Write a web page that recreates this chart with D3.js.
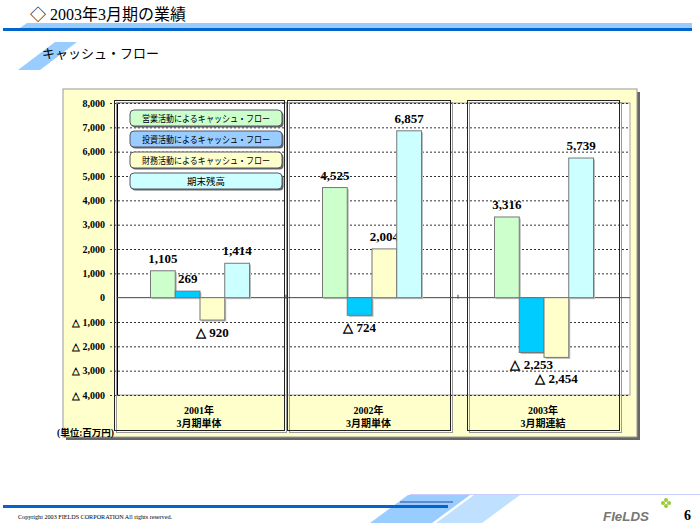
<!DOCTYPE html>
<html><head><meta charset="utf-8">
<script src="https://cdn.jsdelivr.net/npm/d3@7"></script>
<style>body{margin:0;background:#fff;} svg{display:block;}</style>
</head><body>
<script>
// ---- data ----
const catLine1 = ["2001年", "2002年", "2003年"];
const catLine2 = ["3月期単体", "3月期単体", "3月期連結"];
const seriesNames = ["営業活動によるキャッシュ・フロー", "投資活動によるキャッシュ・フロー", "財務活動によるキャッシュ・フロー", "期末残高"];
const operatingCF = [1105, 4525, 3316];
const investingCF = [269, -724, -2253];
const financingCF = [-920, 2004, -2454];
const endingBalance = [1414, 6857, 5739];
const yTickValues = [-4000, -3000, -2000, -1000, 0, 1000, 2000, 3000, 4000, 5000, 6000, 7000, 8000];
const unitLabel = "(単位:百万円)";

const barColors = ["#ccffcc", "#00ccff", "#ffffcc", "#ccffff"];
const legendColors = ["#ccffcc", "#99ccff", "#ffffcc", "#ccffff"];

const W = 700, H = 525;
const svg = d3.select("body").append("svg").attr("width", W).attr("height", H);
const SERIF = "'Liberation Serif','Times New Roman',serif";
const CJK = "'Liberation Serif','Noto Sans CJK JP',serif";

// ---- header ----
svg.append("polygon").attr("points", "20,28 27,23 692,23 692,28").attr("fill", "#99ccff");
svg.append("rect").attr("x", 3).attr("y", 28).attr("width", 689).attr("height", 3).attr("fill", "#0066cc");
svg.append("text").attr("x", 30).attr("y", 20).attr("font-family", CJK).attr("font-size", 16)
  .attr("fill", "#000").text("◇ 2003年3月期の業績");
svg.append("polygon").attr("points", "55,42 77,42 40,70 18,70").attr("fill", "#99ccff");
svg.append("text").attr("x", 42).attr("y", 58).attr("font-family", "'Noto Sans CJK JP',sans-serif").attr("font-size", 13)
  .attr("fill", "#000").text("キャッシュ・フロー");

// ---- panel ----
svg.append("rect").attr("x", 66).attr("y", 92).attr("width", 574).attr("height", 348).attr("fill", "#666");
svg.append("rect").attr("x", 63).attr("y", 89).attr("width", 574).attr("height", 348).attr("fill", "#ffffcc").attr("stroke", "#999").attr("stroke-width", 1);

// ---- scales ----
const plotL = 117, plotR = 630, plotT = 103, plotB = 395;
const y = d3.scaleLinear().domain([-4000, 8000]).range([plotB, plotT]);
const x = d3.scaleBand().domain(d3.range(catLine1.length)).range([114, 630]).padding(0);
const bw = x.bandwidth();
const groupW = 99;
const xs = d3.scaleBand().domain(d3.range(4)).range([0, groupW]).padding(0);

svg.append("rect").attr("x", plotL).attr("y", plotT).attr("width", plotR - plotL).attr("height", plotB - plotT)
  .attr("fill", "#fff").attr("stroke", "#a0a0a0");

// grid
const grid = svg.append("g");
yTickValues.forEach(v => {
  if (v === 0) return;
  grid.append("line").attr("x1", 110).attr("x2", plotR).attr("y1", y(v) + 0.5).attr("y2", y(v) + 0.5)
    .attr("stroke", "#333").attr("stroke-dasharray", "2,2").attr("stroke-width", 1);
});

// y axis
const yAxis = d3.axisLeft(y).tickValues(yTickValues).tickSize(0).tickPadding(12)
  .tickFormat(v => v < 0 ? "△ " + d3.format(",")(-v) : d3.format(",")(v));
const ya = svg.append("g").attr("transform", `translate(${plotL},0)`).call(yAxis);
ya.select(".domain").attr("stroke", "#000");
ya.selectAll("text").attr("font-family", SERIF).attr("font-weight", "bold").attr("font-size", 10).attr("fill", "#000");

// category boxes
const boxInset = [[0, 2], [1, 8], [9, 11]];
catLine1.forEach((c, i) => {
  const x0 = x(i) + boxInset[i][0], x1 = x(i) + bw - boxInset[i][1];
  svg.append("rect").attr("x", x0 + 2.5).attr("y", 102.5).attr("width", x1 - x0).attr("height", 330)
    .attr("fill", "none").attr("stroke", "#999");
  svg.append("rect").attr("x", x0 + 0.5).attr("y", 100.5).attr("width", x1 - x0).attr("height", 330)
    .attr("fill", "none").attr("stroke", "#222");
  const cx = (x0 + x1) / 2;
  svg.append("text").attr("x", cx).attr("y", 414).attr("text-anchor", "middle").attr("font-family", CJK)
    .attr("font-weight", "bold").attr("font-size", 10).text(c);
  svg.append("text").attr("x", cx).attr("y", 427).attr("text-anchor", "middle").attr("font-family", CJK)
    .attr("font-weight", "bold").attr("font-size", 10).text(catLine2[i]);
});

// zero line
svg.append("line").attr("x1", plotL).attr("x2", plotR).attr("y1", y(0)).attr("y2", y(0)).attr("stroke", "#444");
[1, 2].forEach(i => {
  svg.append("line").attr("x1", x(i)).attr("x2", x(i)).attr("y1", y(0) - 3).attr("y2", y(0) + 1).attr("stroke", "#444");
});

// bars
const series = [operatingCF, investingCF, financingCF, endingBalance];
const fmt = v => v < 0 ? "△ " + d3.format(",")(-v) : d3.format(",")(v);
catLine1.forEach((c, i) => {
  const gx = x(i) + (bw - groupW) / 2;
  let prevNeg = null;
  series.forEach((s, j) => {
    const v = s[i];
    const bx = gx + xs(j), bwid = xs.bandwidth();
    const top = y(Math.max(0, v)), bot = y(Math.min(0, v));
    svg.append("rect").attr("x", bx + 1.5).attr("y", top + 1.5).attr("width", bwid).attr("height", bot - top)
      .attr("fill", "#bbb");
    svg.append("rect").attr("x", bx).attr("y", top).attr("width", bwid).attr("height", bot - top)
      .attr("fill", barColors[j]).attr("stroke", "#777").attr("stroke-width", 1);
    let ly;
    if (v >= 0) { ly = top - 8; prevNeg = null; }
    else {
      ly = bot + 17;
      if (prevNeg !== null && Math.abs(ly - prevNeg) < 13) ly = prevNeg + 14;
      prevNeg = ly;
    }
    svg.append("text").attr("x", bx + bwid / 2).attr("y", ly).attr("text-anchor", "middle")
      .attr("font-family", SERIF).attr("font-weight", "bold").attr("font-size", 13).attr("fill", "#000").text(fmt(v));
  });
});

// legend
seriesNames.forEach((n, j) => {
  const ly = 110 + j * 21;
  svg.append("rect").attr("x", 131.5).attr("y", ly + 1.5).attr("width", 152).attr("height", 16).attr("rx", 4)
    .attr("fill", "#666");
  svg.append("rect").attr("x", 130).attr("y", ly).attr("width", 152).attr("height", 16).attr("rx", 4)
    .attr("fill", legendColors[j]).attr("stroke", "#556").attr("stroke-width", 1);
  const t = svg.append("text").attr("x", 206).attr("y", ly + 12).attr("text-anchor", "middle")
    .attr("font-family", "'Noto Sans CJK JP',sans-serif").attr("font-size", 9.5).attr("fill", "#000").text(n);
  if (n.length > 8) t.attr("textLength", 128).attr("lengthAdjust", "spacingAndGlyphs");
});

// unit
svg.append("text").attr("x", 57).attr("y", 436).attr("font-family", CJK).attr("font-weight", "bold")
  .attr("font-size", 9.5).text(unitLabel);

// ---- footer ----
svg.append("line").attr("x1", 410).attr("x2", 700).attr("y1", 494.5).attr("y2", 494.5).attr("stroke", "#ccccff");
svg.append("polygon").attr("points", "408,495 470,495 432,523 370,523").attr("fill", "#99ccff");
svg.append("polygon").attr("points", "474,495 520,495 482,523 436,523").attr("fill", "#bfe0ff");
svg.append("rect").attr("x", 3).attr("y", 505).attr("width", 445).attr("height", 3).attr("fill", "#0066cc");
svg.append("line").attr("x1", 400).attr("x2", 453).attr("y1", 502).attr("y2", 502).attr("stroke", "#334499");
svg.append("text").attr("x", 18).attr("y", 519).attr("font-family", SERIF).attr("font-size", 7)
  .attr("textLength", 154).attr("lengthAdjust", "spacingAndGlyphs")
  .text("Copyright 2003   FIELDS CORPORATION    All rights reserved.");
svg.append("text").attr("x", 603).attr("y", 521).attr("font-family", "'Liberation Sans',sans-serif")
  .attr("font-style", "italic").attr("font-weight", "bold").attr("font-size", 13).attr("fill", "#777")
  .attr("textLength", 46).attr("lengthAdjust", "spacingAndGlyphs").text("FIeLDS");
[[0, -3], [3, 0], [0, 3], [-3, 0]].forEach(d => {
  svg.append("circle").attr("cx", 666 + d[0]).attr("cy", 503 + d[1]).attr("r", 2).attr("fill", "#99cc33");
});
svg.append("text").attr("x", 684).attr("y", 520).attr("font-family", SERIF).attr("font-weight", "bold")
  .attr("font-size", 14).text("6");
</script>
</body></html>
